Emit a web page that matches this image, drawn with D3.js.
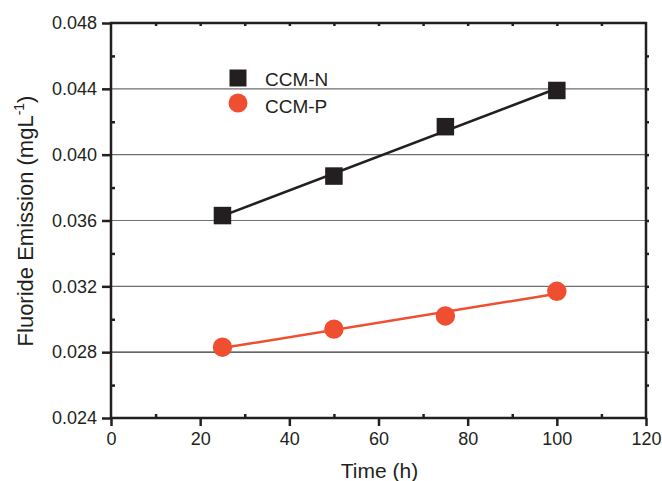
<!DOCTYPE html>
<html>
<head>
<meta charset="utf-8">
<script src="https://cdn.jsdelivr.net/npm/d3@7"></script>
<style>
  body { margin: 0; background: #fff; }
  svg { display: block; font-family: "Liberation Sans", Arial, sans-serif; }
</style>
</head>
<body>
<svg id="chart" width="662" height="481"></svg>
<script>
// data
const hours = [25, 50, 75, 100];
const ccmN = [0.0363, 0.0387, 0.0417, 0.0439];
const ccmP = [0.0283, 0.0294, 0.0302, 0.0317];
const seriesNames = ["CCM-N", "CCM-P"];
const xTicks = [0, 20, 40, 60, 80, 100, 120];
const yTicks = [0.024, 0.028, 0.032, 0.036, 0.040, 0.044, 0.048];
const gridValues = [0.028, 0.032, 0.036, 0.040, 0.044];

const ink = "#231f20",
    orange = "#f04e30";

let svg = d3.select("#chart");

let margin = {left: 111, top: 23, right: 16, bottom: 63};
let width = 662 - margin.left - margin.right,
    height = 481 - margin.top - margin.bottom;

let x = d3.scaleLinear().domain([0, 120]).range([0, width]);
let y = d3.scaleLinear().domain([0.024, 0.048]).range([height, 0]);

let g = svg.append("g").attr("transform", `translate(${margin.left},${margin.top})`);

// grid lines
g.append("g")
    .selectAll("line")
    .data(gridValues)
    .enter().append("line")
    .attr("x1", 0).attr("x2", width)
    .attr("y1", (d) => y(d)).attr("y2", (d) => y(d))
    .attr("stroke", (d) => d === 0.028 ? "#333" : "#6f6f6f")
    .attr("stroke-width", 1.2);

// minor tick values
let xMinor = d3.range(10, 120, 20);
let yMinor = d3.range(0.026, 0.048, 0.004);

function styleAxis(sel) {
    sel.select(".domain").remove();
    sel.selectAll(".tick line").attr("stroke", ink).attr("stroke-width", 2.5);
    sel.selectAll(".tick text").attr("fill", ink).style("font-size", "18px");
}

// bottom axis (major out)
g.append("g")
    .attr("transform", `translate(0,${height})`)
    .call(d3.axisBottom(x).tickValues(xTicks).tickSize(8).tickPadding(6).tickFormat(d3.format("d")))
    .call(styleAxis);
// bottom minor (in)
g.append("g")
    .attr("transform", `translate(0,${height})`)
    .call(d3.axisBottom(x).tickValues(xMinor).tickSize(-4).tickFormat(""))
    .call(styleAxis);

// left axis
g.append("g")
    .call(d3.axisLeft(y).tickValues(yTicks).tickSize(9).tickPadding(5).tickFormat(d3.format(".3f")))
    .call(styleAxis);
g.append("g")
    .call(d3.axisLeft(y).tickValues(yMinor).tickSize(-4).tickFormat(""))
    .call(styleAxis);

// top and right small ticks
g.append("g")
    .call(d3.axisTop(x).tickValues(d3.range(10, 120, 10)).tickSize(-3).tickFormat(""))
    .call(styleAxis);
g.append("g")
    .attr("transform", `translate(${width},0)`)
    .call(d3.axisRight(y).tickValues(d3.range(0.026, 0.048, 0.002)).tickSize(3).tickFormat(""))
    .call(styleAxis);

// frame
g.append("rect")
    .attr("width", width).attr("height", height)
    .attr("fill", "none")
    .attr("stroke", ink)
    .attr("stroke-width", 2.5);

// linear fits
function fit(xs, ys) {
    let mx = d3.mean(xs), my = d3.mean(ys);
    let num = d3.sum(xs, (v, i) => (v - mx) * (ys[i] - my));
    let den = d3.sum(xs, (v) => (v - mx) * (v - mx));
    let b = num / den;
    return (v) => my + b * (v - mx);
}

let series = [
    {name: seriesNames[0], values: ccmN, color: ink, shape: "square"},
    {name: seriesNames[1], values: ccmP, color: orange, shape: "circle"}
];

series.forEach((s) => {
    let f = fit(hours, s.values);
    let x0 = d3.min(hours), x1 = d3.max(hours);
    g.append("line")
        .attr("x1", x(x0)).attr("y1", y(f(x0)))
        .attr("x2", x(x1)).attr("y2", y(f(x1)))
        .attr("stroke", s.color)
        .attr("stroke-width", 2.5);

    let pts = g.append("g")
        .selectAll("path")
        .data(hours.map((h, i) => [h, s.values[i]]))
        .enter().append("path")
        .attr("transform", (d) => `translate(${x(d[0])},${y(d[1])})`)
        .attr("fill", s.color);
    if (s.shape === "square") {
        pts.attr("d", d3.symbol(d3.symbolSquare, 17.5 * 17.5));
    } else {
        pts.attr("d", d3.symbol(d3.symbolCircle, Math.PI * 9.7 * 9.7));
    }
});

// legend
let legend = svg.append("g");
legend.append("path")
    .attr("transform", "translate(238,78)")
    .attr("d", d3.symbol(d3.symbolSquare, 17 * 17))
    .attr("fill", ink);
legend.append("path")
    .attr("transform", "translate(238,103)")
    .attr("d", d3.symbol(d3.symbolCircle, Math.PI * 9.5 * 9.5))
    .attr("fill", orange);
legend.append("text")
    .attr("x", 265).attr("y", 85.5)
    .attr("fill", ink)
    .style("font-size", "19px")
    .text(seriesNames[0]);
legend.append("text")
    .attr("x", 265).attr("y", 113)
    .attr("fill", ink)
    .style("font-size", "19px")
    .text(seriesNames[1]);

// axis titles
svg.append("text")
    .attr("x", margin.left + width / 2 + 1)
    .attr("y", 478)
    .attr("text-anchor", "middle")
    .attr("fill", ink)
    .style("font-size", "21px")
    .text("Time (h)");

let yTitle = svg.append("text")
    .attr("transform", "translate(32.5,221) rotate(-90)")
    .attr("text-anchor", "middle")
    .attr("fill", ink)
    .style("font-size", "22px");
yTitle.append("tspan").text("Fluoride Emission (mgL");
yTitle.append("tspan").attr("dy", -9).style("font-size", "14px").text("-1");
yTitle.append("tspan").attr("dy", 9).text(")");
</script>
</body>
</html>
